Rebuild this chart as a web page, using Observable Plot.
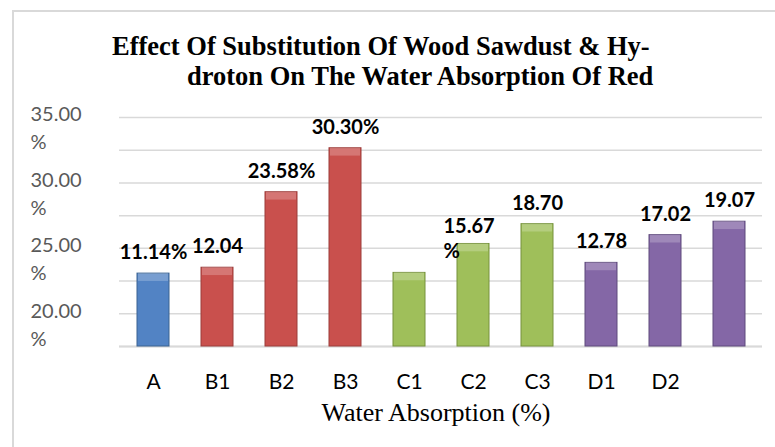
<!DOCTYPE html>
<html><head><meta charset="utf-8">
<script src="https://cdn.jsdelivr.net/npm/d3@7"></script>
<script src="https://cdn.jsdelivr.net/npm/@observablehq/plot@0.6"></script>
<style>
html,body{margin:0;padding:0;background:#fff;}
#wrap{position:relative;width:775px;height:447px;overflow:hidden;background:#fff;}
#frame{position:absolute;left:12px;top:10px;width:800px;height:500px;border-top:2px solid #d9d9d9;border-left:2px solid #d9d9d9;box-sizing:border-box;}
#chart{position:absolute;left:0;top:0;}
#title{position:absolute;left:0;top:0;width:775px;height:100px;font-family:"Liberation Serif","Tinos","Times New Roman","DejaVu Serif",serif;font-weight:bold;font-size:26.5px;color:#000;z-index:2;}
#title div{position:absolute;white-space:nowrap;line-height:1;}
</style>
</head><body>
<div id="wrap">
  <div id="frame"></div>
  <div id="chart"></div>
  <div id="title"><div id="t1"></div><div id="t2"></div></div>
</div>
<script>
const categories = ["A","B1","B2","B3","C1","C2","C3","D1","D2","D3"];
const values = [11.14,12.04,23.58,30.30,11.25,15.67,18.70,12.78,17.02,19.07];
const valueLabels = ["11.14%","12.04","23.58%","30.30%","","15.67\n%","18.70","12.78","17.02","19.07"];
const groups = ["A","B","B","B","C","C","C","D","D","D"];
const gridValues = [0,5,10,15,20,25,30,35];
const yTickValues = [35,25,15,5];
const yTickLabels = ["35.00\n%","30.00\n%","25.00\n%","20.00\n%"];
const xTitle = "Water Absorption (%)";
const titleLines = ["Effect Of Substitution Of Wood Sawdust & Hy-","droton On The Water Absorption Of Red"];

const rows = categories.map((c,i)=>({cat:c, value:values[i], label:valueLabels[i], group:groups[i]}));
const strokeMap = {A:"#3a6291",B:"#9b3c3a",C:"#76923c",D:"#5f4a7c"};
const serif = "'Liberation Serif', Tinos, 'Times New Roman', 'DejaVu Serif', serif";

const t1 = document.getElementById("t1");
t1.textContent = titleLines[0];
t1.style.left = "112px"; t1.style.top = "33px";
const t2 = document.getElementById("t2");
t2.textContent = titleLines[1];
t2.style.left = "187px"; t2.style.top = "63px";

const chart = Plot.plot({
  width:775, height:447,
  marginLeft:119, marginRight:13, marginTop:117, marginBottom:101,
  style:{fontFamily:"Lato, sans-serif", background:"transparent", overflow:"visible"},
  x:{domain:categories, paddingInner:0.5, paddingOuter:0.25},
  y:{domain:[0,35], axis:null},
  color:{domain:["A","B","C","D"], range:["#5283c4","#c9504d","#9fbf5a","#8467a6"]},
  marks:[
    Plot.gridY(gridValues, {stroke:"#d9d9d9", strokeOpacity:1, strokeWidth:1.5}),
    Plot.ruleY([0], {stroke:"#d9d9d9", strokeWidth:2}),
    Plot.barY(rows, {x:"cat", y:"value", fill:"group", stroke:d=>strokeMap[d.group], strokeWidth:1}),
    Plot.barY(rows, {x:"cat", y1:d=>d.value-1.2, y2:"value", fill:"white", fillOpacity:0.22, insetLeft:1, insetRight:1}),
    Plot.axisX({tickSize:0, tickPadding:28, fontSize:21, fill:"#000", label:null,
      tickFormat:d => d === "D3" ? "" : d}),
    Plot.text(yTickValues, {y:d=>d, text:(d,i)=>yTickLabels[i], frameAnchor:"left", textAnchor:"start",
      dx:-89, dy:-16, lineAnchor:"top", lineHeight:1.4, fontSize:20, fill:"#595959"}),
    Plot.text(rows.filter(d=>d.label && !d.label.includes("\n")), {x:"cat", y:"value", text:"label",
      dy:-21, fontSize:20, fontWeight:"bold", fill:"#000"}),
    Plot.text(rows.filter(d=>d.label.includes("\n")), {x:"cat", y:"value", text:"label",
      textAnchor:"start", dx:-30, dy:-29, lineAnchor:"top", lineHeight:1.25, fontSize:20, fontWeight:"bold", fill:"#000"}),
    Plot.text([xTitle], {text:d=>d, frameAnchor:"bottom", dy:74, dx:-5, fontFamily:serif, fontSize:26, fill:"#000"})
  ]
});
document.getElementById("chart").appendChild(chart);
</script>
</body></html>
